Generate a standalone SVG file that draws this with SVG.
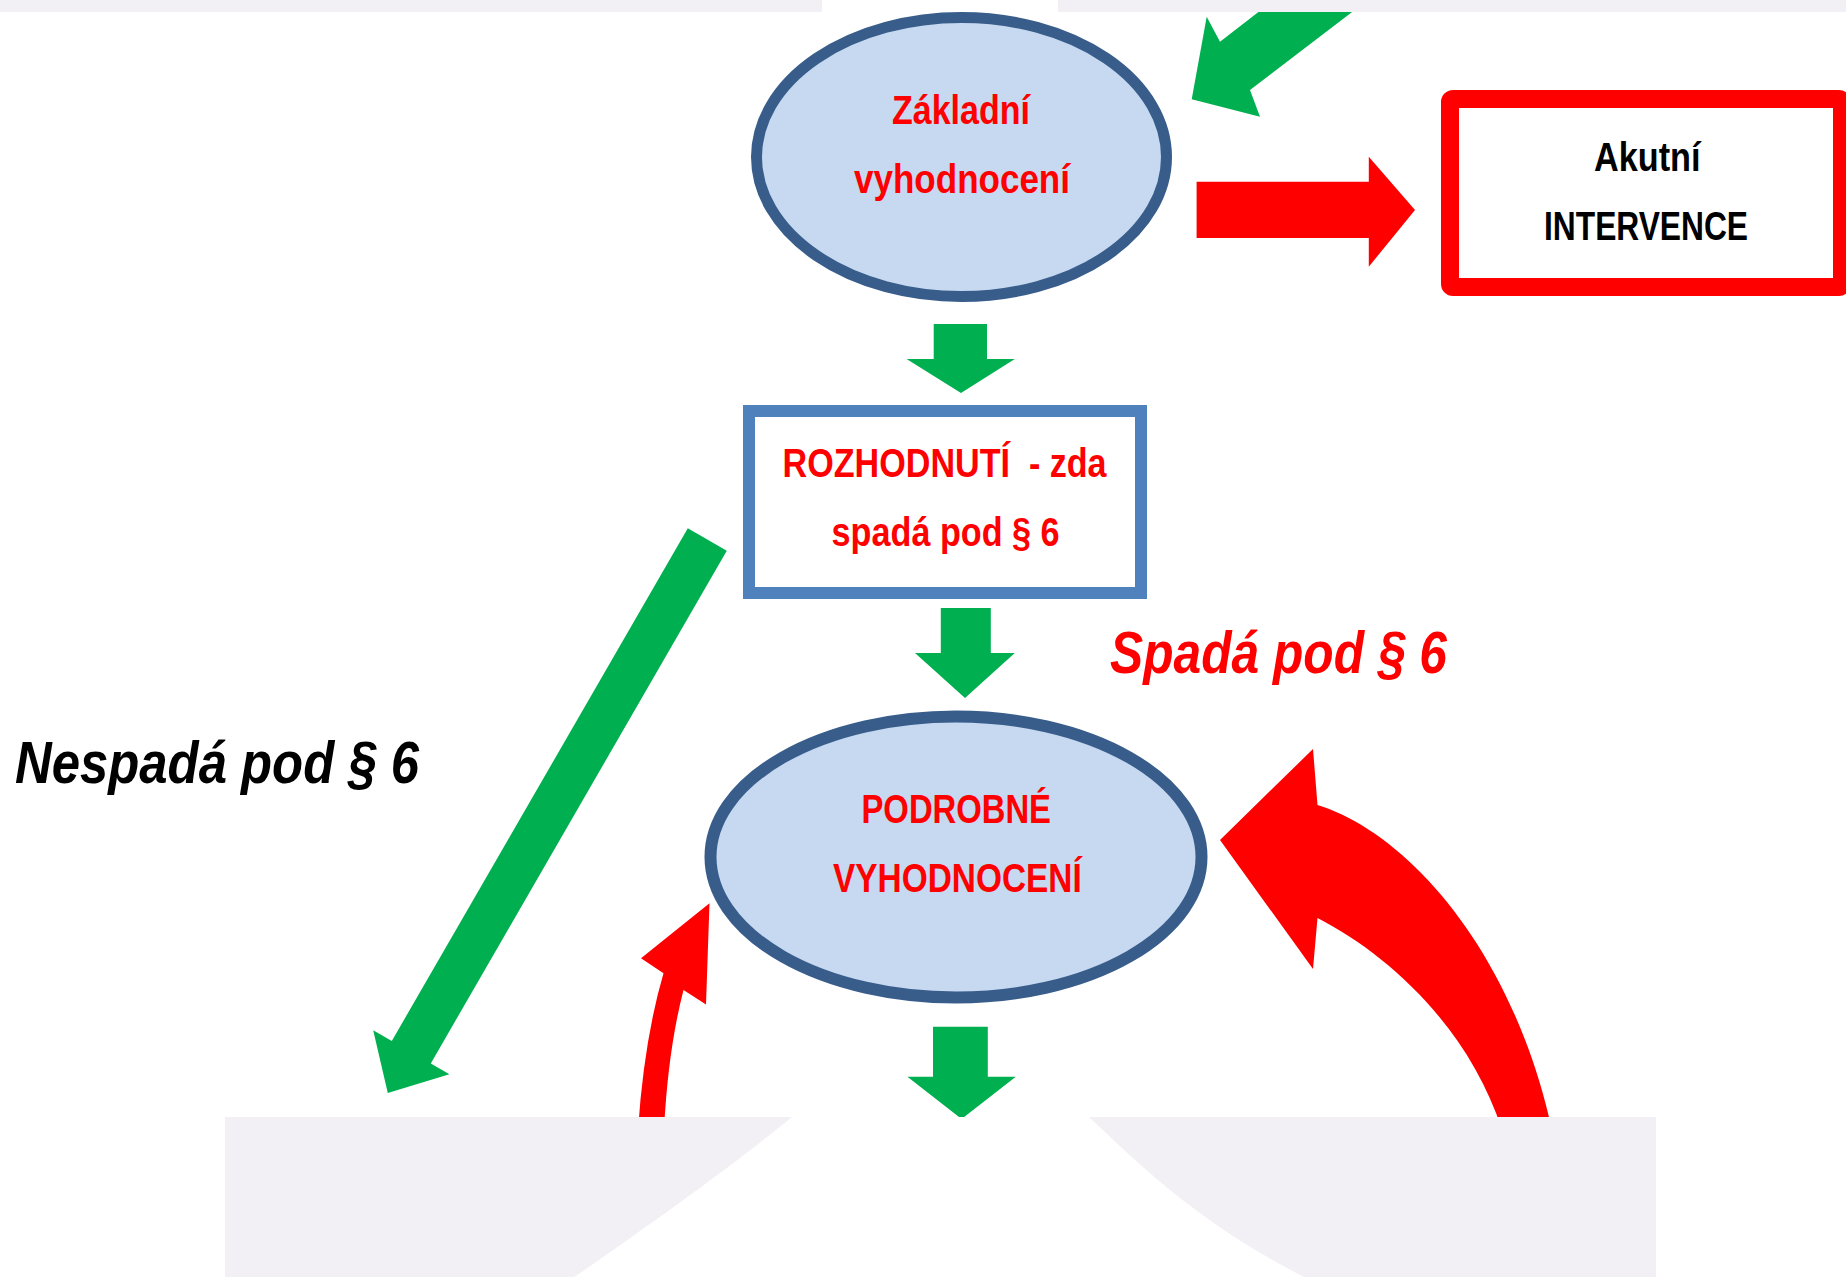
<svg xmlns="http://www.w3.org/2000/svg" width="1846" height="1277" viewBox="0 0 1846 1277">
<style>
.lbl{font-family:"Liberation Sans Narrow","Liberation Sans",Arial,sans-serif;font-weight:bold;font-size:40px}
.it{font-style:italic;font-size:60px}
.tr{fill:#ff0000}
.tk{fill:#000000}
.ell{fill:#c6d9f1;stroke:#385d8a;stroke-width:11}
.g{fill:#00b050}
.r{fill:#ff0000}
.band{fill:#f2f0f4}
</style>
<rect x="0" y="0" width="1846" height="1277" fill="#ffffff"/>
<g id="connectors">
  <polygon class="g" points="1191.7,99.3 1206.7,16.7 1220,41.7 1286.8,-10 1380.9,-10 1250,90 1260,116.7"/>
  <polygon class="r" points="1196.6,181.7 1368.8,181.7 1368.8,156.7 1415,210 1368.8,266.7 1368.8,238 1196.6,238"/>
  <polygon class="g" points="933.7,324 987,324 987,359 1014.8,359 961,393 906.6,359 933.7,359"/>
  <polygon class="g" points="940.8,608 990.8,608 990.8,653 1014.8,653 965,698 915,653 940.8,653"/>
  <polygon class="g" points="933,1026.7 987.8,1026.7 987.8,1076.7 1015.8,1076.7 961.6,1119 907.4,1076.7 933,1076.7"/>
  <polygon class="g" transform="translate(707.3,539.5) rotate(120)" points="0,-22.5 592,-22.5 592,-44 639,0 592,44 592,22.5 0,22.5"/>
  <path class="r" d="M638,1130 Q644,1040 663.5,973.3 L641,958.3 L709.5,903.3 L706,1004.5 L683.5,990 Q668,1050 664,1130 Z"/>
  <path class="r" d="M1220,840 L1313,749 L1317.5,805 C1400,830 1510,940 1552,1130 L1502,1130 C1470,1030 1390,955 1317.5,918 L1313,969 Z"/>
</g>
<g id="node-zakladni">
  <ellipse class="ell" cx="961.5" cy="157" rx="205" ry="139.5"/>
  <text class="lbl tr" x="892" y="124" textLength="138" lengthAdjust="spacingAndGlyphs">Základní</text>
  <text class="lbl tr" x="854" y="192.5" textLength="216" lengthAdjust="spacingAndGlyphs">vyhodnocení</text>
</g>
<g id="node-akutni">
  <rect x="1450" y="99" width="392" height="188" rx="3" fill="#ffffff" stroke="#ff0000" stroke-width="18"/>
  <text class="lbl tk" x="1594" y="170.5" textLength="106.5" lengthAdjust="spacingAndGlyphs">Akutní</text>
  <text class="lbl tk" x="1544" y="240" textLength="204" lengthAdjust="spacingAndGlyphs">INTERVENCE</text>
</g>
<g id="node-rozhodnuti">
  <rect x="749" y="411" width="392" height="182" fill="#ffffff" stroke="#4f81bd" stroke-width="12"/>
  <text class="lbl tr" x="782.6" y="476.7" textLength="324" lengthAdjust="spacingAndGlyphs" xml:space="preserve">ROZHODNUTÍ  - zda</text>
  <text class="lbl tr" x="831.6" y="546" textLength="228" lengthAdjust="spacingAndGlyphs">spadá pod § 6</text>
</g>
<g id="node-podrobne">
  <ellipse class="ell" cx="956" cy="857" rx="245.5" ry="140.5" style="stroke-width:12"/>
  <text class="lbl tr" x="861.5" y="823.3" textLength="189.5" lengthAdjust="spacingAndGlyphs">PODROBNÉ</text>
  <text class="lbl tr" x="833" y="891.7" textLength="248.7" lengthAdjust="spacingAndGlyphs">VYHODNOCENÍ</text>
</g>
<g id="label-spada">
  <text class="lbl it tr" x="1110" y="673" textLength="337" lengthAdjust="spacingAndGlyphs">Spadá pod § 6</text>
</g>
<g id="label-nespada">
  <text class="lbl it tk" x="15" y="782.6" textLength="404" lengthAdjust="spacingAndGlyphs">Nespadá pod § 6</text>
</g>
<g id="background-bands">
  <rect class="band" x="0" y="0" width="822" height="12"/>
  <rect class="band" x="1058" y="0" width="788" height="12"/>
  <rect class="band" x="225" y="1117" width="1431" height="160"/>
  <path fill="#ffffff" d="M792,1117 L1089,1117 C1140,1165 1200,1225 1310,1280 L570,1280 C650,1225 740,1160 792,1117 Z"/>
</g>
</svg>
